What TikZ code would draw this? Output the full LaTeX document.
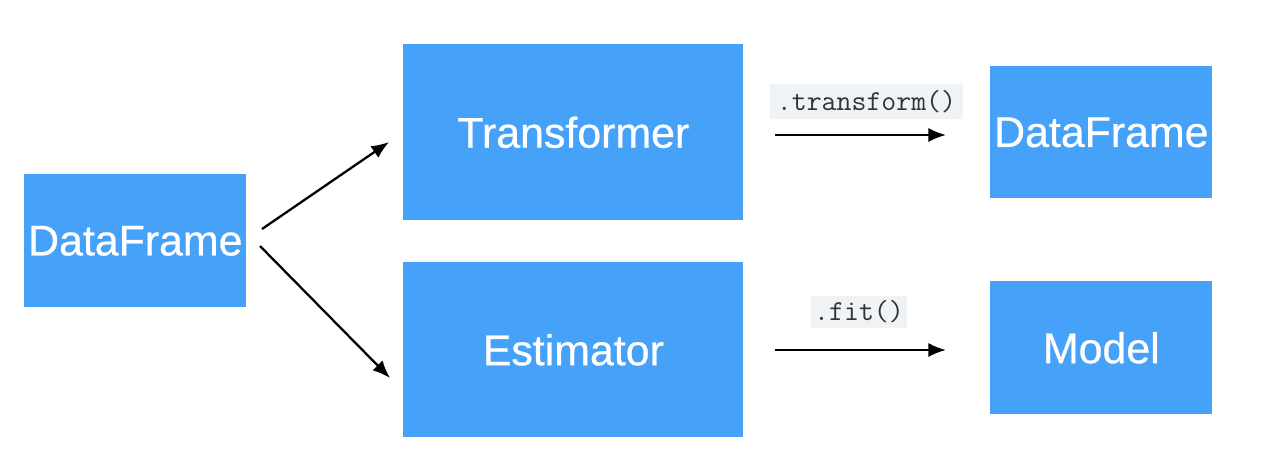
\documentclass[tikz,border=0pt]{standalone}
\usepackage{fontspec}
\setmainfont{Liberation Sans}[FakeBold=1.2]
\newfontfamily\boxfont{Liberation Sans}[FakeBold=0.6]
\usetikzlibrary{arrows.meta}
\definecolor{boxblue}{HTML}{46A1F8}
\definecolor{codebg}{HTML}{EFF3F6}
\definecolor{codefg}{HTML}{333333}
\begin{document}
\begin{tikzpicture}[x=0.02cm,y=-0.02cm,
  bluebox/.style={fill=boxblue,draw=none,text=white,font=\boxfont\fontsize{24.4}{28}\selectfont,inner sep=0pt,anchor=north west},
  codelbl/.style={fill=codebg,text=codefg,font=\ttfamily\fontsize{16.5}{18}\selectfont,inner sep=0pt},
  conn/.style={line width=1.3pt,-{Latex[length=10pt,width=8pt]}}]
\useasboundingbox (0,0) rectangle (1264,458);
\node[bluebox,minimum width=4.44cm,minimum height=2.66cm] (df) at (24,174) {DataFrame};
\node[bluebox,minimum width=6.8cm,minimum height=3.52cm] (tr) at (403,44) {Transformer};
\node[bluebox,minimum width=6.8cm,minimum height=3.5cm] (es) at (403,262) {Estimator};
\node[bluebox,minimum width=4.44cm,minimum height=2.64cm] (df2) at (990,66) {DataFrame};
\node[bluebox,minimum width=4.44cm,minimum height=2.66cm] (mo) at (990,281) {Model};
\coordinate (a1s) at (262,229); \coordinate (a1e) at (389,142);
\coordinate (a2s) at (260,246); \coordinate (a2e) at (390,378);
\coordinate (a3s) at (775,135); \coordinate (a3e) at (946,135);
\coordinate (a4s) at (775,350); \coordinate (a4e) at (946,350);
\draw[conn] (a1s) -- (a1e);
\draw[conn] (a2s) -- (a2e);
\draw[conn] (a3s) -- (a3e);
\draw[conn] (a4s) -- (a4e);
\node[codelbl,minimum width=3.86cm,minimum height=0.7cm] (lt) at (866.5,101.5) {.transform()};
\node[codelbl,minimum width=1.92cm,minimum height=0.64cm] (lf) at (859,312) {.fit()};
\end{tikzpicture}
\end{document}
